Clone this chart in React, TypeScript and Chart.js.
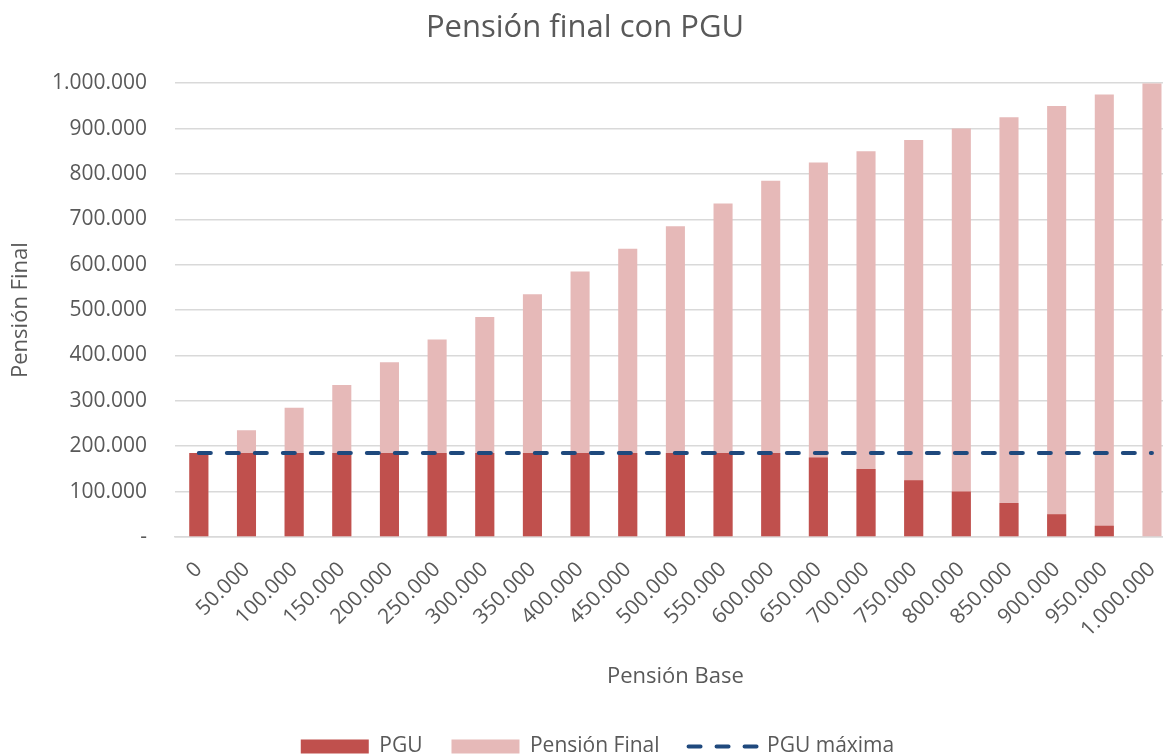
import React, { useEffect, useRef } from "react";
import { Chart, registerables } from "chart.js";

Chart.register(...registerables);

const categories = [
  0, 50000, 100000, 150000, 200000, 250000, 300000, 350000, 400000, 450000, 500000,
  550000, 600000, 650000, 700000, 750000, 800000, 850000, 900000, 950000, 1000000,
];
const pguValues = [
  185000, 185000, 185000, 185000, 185000, 185000, 185000, 185000, 185000, 185000, 185000,
  185000, 185000, 175000, 150000, 125000, 100000, 75000, 50000, 25000, 0,
];
const pensionFinalValues = [
  185000, 235000, 285000, 335000, 385000, 435000, 485000, 535000, 585000, 635000, 685000,
  735000, 785000, 825000, 850000, 875000, 900000, 925000, 950000, 975000, 1000000,
];
const pguMaximaValues = [
  185000, 185000, 185000, 185000, 185000, 185000, 185000, 185000, 185000, 185000, 185000,
  185000, 185000, 185000, 185000, 185000, 185000, 185000, 185000, 185000, 185000,
];

const fmt = (n: number) => String(n).replace(/\B(?=(\d{3})+(?!\d))/g, ".");
const xLabels = categories.map((c) => fmt(c));

const TEXT = "#595959";
const FONT = "'Open Sans', 'Noto Sans', sans-serif";

export default function App() {
  const ref = useRef<HTMLCanvasElement | null>(null);
  useEffect(() => {
    if (!ref.current) return;
    Chart.defaults.font.family = FONT;
    const titleShift = {
      id: "titleShift",
      afterLayout(chart: any) {
        const t = chart.titleBlock;
        if (t) {
          t.left = 0;
          t.right = 1170;
        }
        const lg = chart.legend;
        if (lg) {
          lg.left = 0;
          lg.right = 1195;
        }
      },
    };
    const chart = new Chart(ref.current, {
      type: "bar",
      data: {
        labels: xLabels,
        datasets: [
          {
            type: "bar",
            label: "PGU",
            data: pguValues,
            backgroundColor: "#C0504D",
            borderWidth: 0,
            grouped: false,
            categoryPercentage: 0.4,
            barPercentage: 1,
            order: 1,
          } as any,
          {
            type: "bar",
            label: "Pensión Final",
            data: pensionFinalValues,
            backgroundColor: "#E6B9B8",
            borderWidth: 0,
            grouped: false,
            categoryPercentage: 0.4,
            barPercentage: 1,
            order: 2,
          } as any,
          {
            type: "line",
            label: "PGU máxima",
            data: pguMaximaValues,
            borderColor: "#1F497D",
            backgroundColor: "#1F497D",
            borderWidth: 4,
            borderDash: [12, 16],
            borderCapStyle: "round",
            pointRadius: 0,
            fill: false,
            order: 0,
          } as any,
        ],
      },
      options: {
        responsive: false,
        animation: false,
        layout: { padding: { left: 0, right: 9, top: 0, bottom: 0 } },
        plugins: {
          title: {
            display: true,
            text: "Pensión final con PGU",
            color: TEXT,
            font: { size: 31, weight: "normal" as any, family: FONT },
            padding: { top: 10, bottom: 36 },
          },
          legend: {
            position: "bottom",
            labels: {
              color: TEXT,
              font: { size: 21, family: FONT },
              usePointStyle: true,
              pointStyleWidth: 68,
              boxHeight: 14,
              padding: 29,
              sort: (a: any, b: any) => a.datasetIndex - b.datasetIndex,
              generateLabels: (chart: any) => {
                const items = (Chart.defaults.plugins.legend.labels as any).generateLabels(chart);
                return items.map((it: any) => {
                  if (it.datasetIndex === 2) {
                    return {
                      ...it,
                      pointStyle: "line",
                      lineWidth: 4,
                      strokeStyle: "#1F497D",
                      fillStyle: "#1F497D",
                      lineDash: [12, 16],
                      lineCap: "round",
                    };
                  }
                  return { ...it, pointStyle: "rect", lineWidth: 0 };
                });
              },
            },
          },
          tooltip: { enabled: false },
        },
        scales: {
          x: {
            grid: { display: false, drawTicks: false },
            border: { display: true, color: "#D9D9D9", width: 1.5 },
            ticks: {
              color: TEXT,
              font: { size: 21, family: FONT },
              autoSkip: false,
              minRotation: 45,
              maxRotation: 45,
              padding: 20,
            },
            title: {
              display: true,
              text: "Pensión Base",
              color: TEXT,
              font: { size: 22, family: FONT },
              padding: { top: 0, bottom: 17 },
            },
            afterFit: (scale: any) => {
              scale.height = 170;
            },
          },
          y: {
            min: 0,
            max: 1000000,
            grid: { color: "#D9D9D9", lineWidth: 1.5, drawTicks: false },
            border: { display: false },
            ticks: {
              stepSize: 100000,
              color: TEXT,
              font: { size: 21, family: FONT },
              padding: 28,
              callback: (v: any) => (Number(v) === 0 ? "-" : fmt(Number(v))),
            },
            title: {
              display: true,
              text: "Pensión Final",
              color: TEXT,
              font: { size: 22, family: FONT },
              padding: { top: 8, bottom: 0 },
            },
            afterFit: (scale: any) => {
              scale.width = 175;
            },
          },
        },
      },
      plugins: [titleShift],
    });
    return () => chart.destroy();
  }, []);

  return (
    <div
      style={{
        position: "absolute",
        left: 0,
        top: 0,
        width: 1163,
        height: 756,
        overflow: "hidden",
        background: "#fff",
      }}
    >
      <canvas ref={ref} width={1190} height={767} style={{ width: 1190, height: 767, display: "block" }} />
    </div>
  );
}
